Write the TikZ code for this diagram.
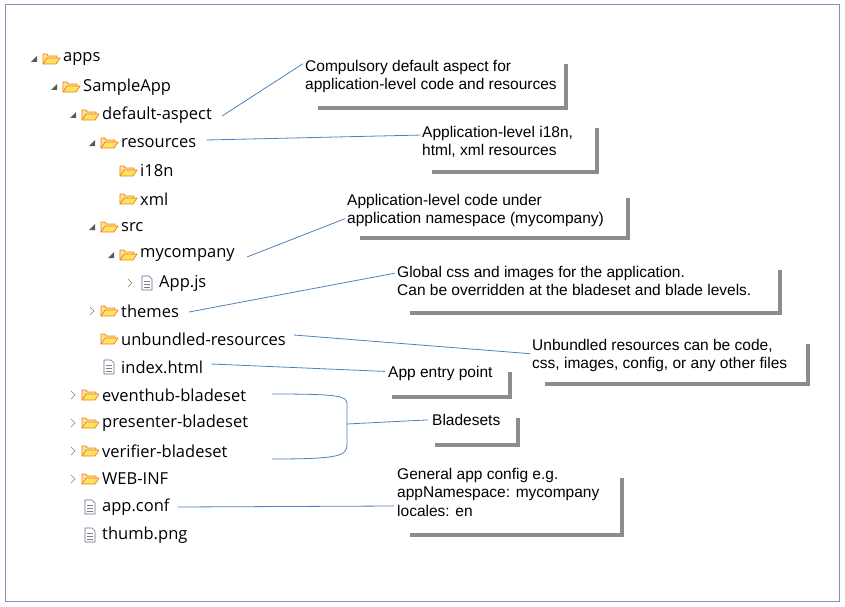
\documentclass[tikz,border=0pt]{standalone}
\usepackage{fontspec}
\setmainfont{Open Sans}
\newfontfamily\calfont{Liberation Sans}
\definecolor{conncol}{RGB}{79,129,189}
\begin{document}
\begin{tikzpicture}[x=1pt,y=-1pt,
  item/.style={anchor=west,inner sep=0pt,font=\fontsize{16.5}{18}\selectfont},
  cal/.style={anchor=north west,inner sep=0pt,align=left,font=\calfont\fontsize{15.5}{18.5}\selectfont},
  conn/.style={draw=conncol,line width=0.8pt},
  shad/.style={draw=black!45,line width=4pt},
  folder/.pic={\draw[draw=orange!80!brown,fill=yellow!40!orange!35,line width=0.7pt,line join=round] (-8,5)--(-8,-5)--(-4,-5)--(-3,-3)--(6,-3)--(6,0);
    \draw[draw=orange!80!brown,fill=yellow!70!orange!60,line width=0.7pt,line join=round] (-8,5)--(-4,-1)--(9,-1)--(5,5)--cycle;},
  file/.pic={\draw[draw=gray!80!blue,fill=white,line width=0.6pt] (-5,-7)--(2,-7)--(5,-4)--(5,7)--(-5,7)--cycle;
    \foreach \yy in {-2,1,4}{\draw[gray,line width=0.5pt] (-3,\yy)--(3,\yy);}},
  open/.pic={\fill[black!65] (3,-3)--(3,3)--(-3,3)--cycle;},
  closed/.pic={\draw[black!50,line width=0.5pt] (-2,-4)--(2,0)--(-2,4);}
]
\useasboundingbox (0,0) rectangle (845,607);
\draw[draw=blue!30!gray!70,line width=1pt] (5,5) rectangle (839,601);
% tree
\foreach \n/\t/\x/\y/\ic/\tr in {
 a/apps/63/59/folder/open,
 b/SampleApp/83/87/folder/open,
 c/default-aspect/102/115/folder/open,
 d/resources/121/143/folder/open,
 e/i18n/140/171/folder/,
 f/xml/140/199/folder/,
 g/src/121/227/folder/open,
 h/mycompany/140/255/folder/open,
 i/App.js/159/283/file/closed,
 j/themes/121/311/folder/closed,
 k/unbundled-resources/121/339/folder/,
 l/index.html/121/367/file/,
 m/eventhub-bladeset/102/395/folder/closed,
 n/presenter-bladeset/102/423/folder/closed,
 o/verifier-bladeset/102/451/folder/closed,
 p/WEB-INF/102/479/folder/closed,
 q/app.conf/102/507/file/,
 r/thumb.png/102/535/file/}{
 \node[item] (\n) at (\x,\y) {\t};
 \pic at (\x-12,\y) {\ic};
 \if\relax\detokenize{\tr}\relax\else\pic at (\x-29,\y) {\tr};\fi
}
% callouts
\node[cal] (c1) at (305,60) {Compulsory default aspect for\\application-level code and resources};
\draw[shad] (566,64)--(566,108)--(318,108);
\node[cal] (c2) at (422,126) {Application-level i18n,\\html, xml resources};
\draw[shad] (597,128)--(597,172)--(432,172);
\node[cal] (c3) at (347,194) {Application-level code under\\application namespace (mycompany)};
\draw[shad] (628,198)--(628,238)--(360,238);
\node[cal] (c4) at (397,266) {Global css and images for the application.\\Can be overridden at the bladeset and blade levels.};
\draw[shad] (780,270)--(780,313)--(410,313);
\node[cal] (c5) at (532,339) {Unbundled resources can be code,\\css, images, config, or any other files};
\draw[shad] (808,344)--(808,384)--(545,384);
\node[cal] (c6) at (388,366) {App entry point};
\draw[shad] (510,372)--(510,397)--(392,397);
\node[cal] (c7) at (432,414) {Bladesets};
\draw[shad] (518,418)--(518,445)--(435,445);
\node[cal] (c8) at (397,468) {General app config e.g.\\appNamespace: mycompany\\locales: en};
\draw[shad] (622,478)--(622,535)--(410,535);
% connectors
\draw[conn] ([xshift=10pt,yshift=-1pt]c.east) -- ([xshift=-2pt,yshift=13pt]c1.west);
\draw[conn] ([xshift=10pt,yshift=3pt]d.east) -- ([xshift=-2pt,yshift=7pt]c2.west);
\draw[conn] ([xshift=12pt,yshift=-2pt]h.east) -- ([xshift=-2pt,yshift=-8pt]c3.west);
\draw[conn] ([xshift=10pt,yshift=-1pt]j.east) -- ([xshift=-2pt,yshift=8pt]c4.west);
\draw[conn] ([xshift=8pt,yshift=4pt]k.east) -- ([xshift=-2pt,yshift=2pt]c5.west);
\draw[conn] ([xshift=8pt,yshift=3pt]l.east) -- ([xshift=-3pt,yshift=2pt]c6.west);
\coordinate (bm) at (347,424);
\draw[conn] ([xshift=-4pt]c7.west) -- (bm) .. controls (347,424) and (347,416) .. (347,410) -- (347,404) .. controls (347,396) and (340,394) .. (272,394);
\draw[conn] (bm) .. controls (347,424) and (347,432) .. (347,438) -- (347,444) .. controls (347,456) and (340,459) .. (272,459);
\draw[conn] ([xshift=8pt]q.east) -- ([xshift=-3pt,yshift=1pt]c8.west |- q.east);
\end{tikzpicture}
\end{document}
